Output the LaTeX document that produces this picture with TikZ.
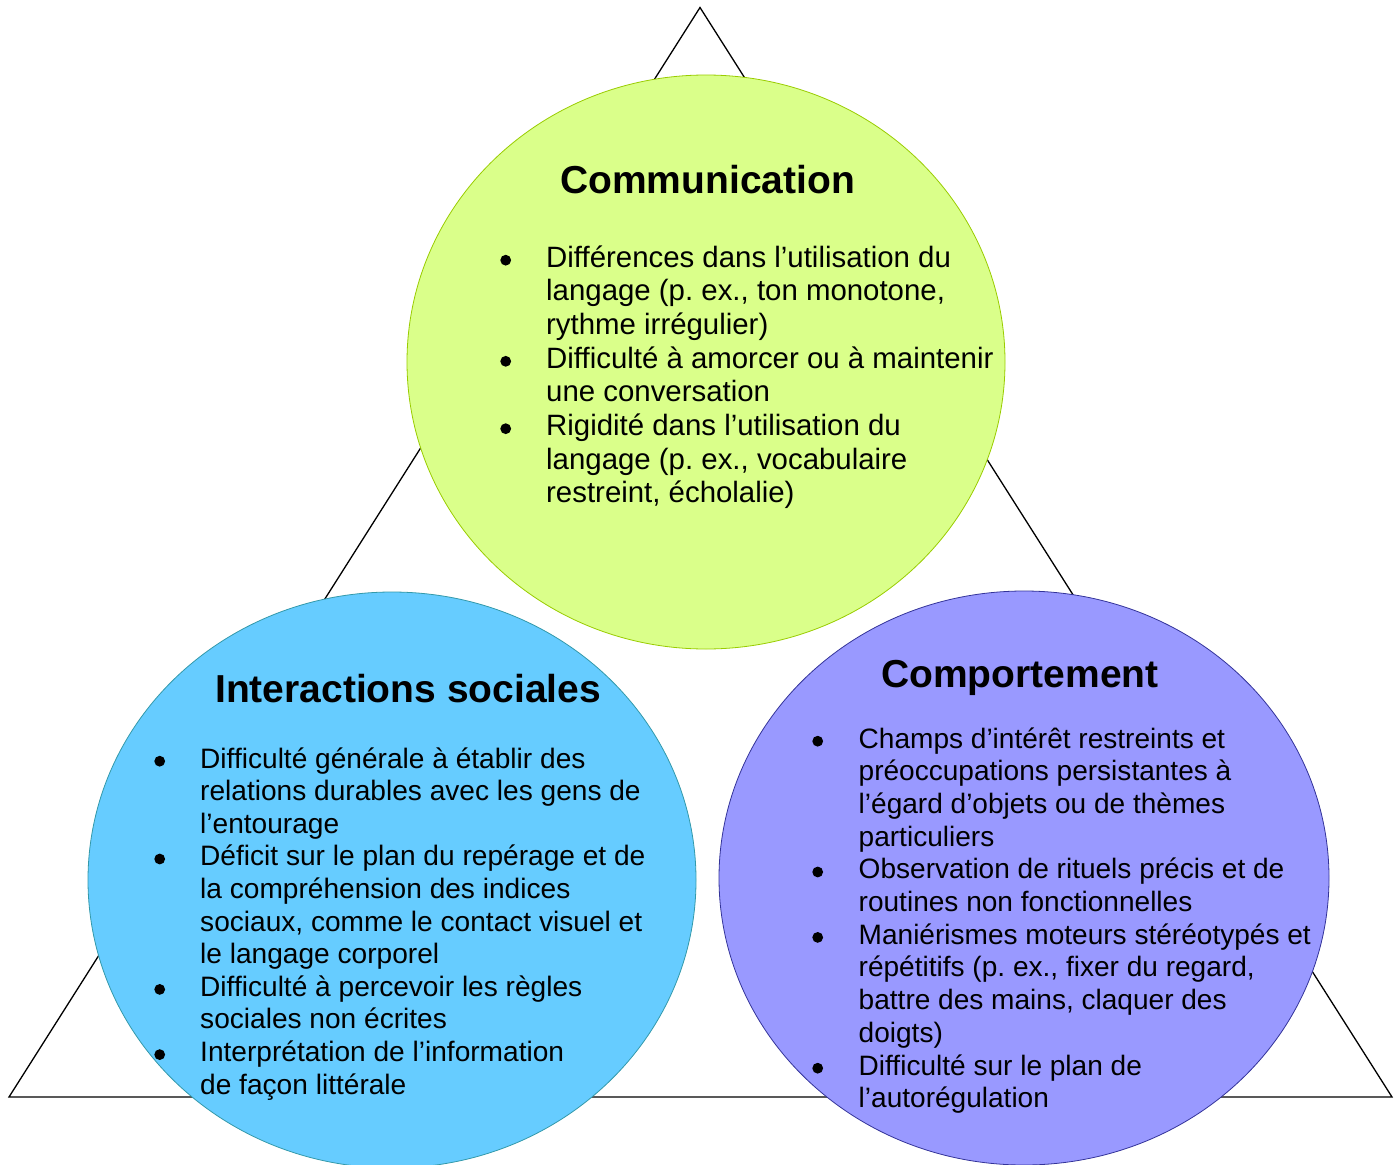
\documentclass[tikz,border=0pt]{standalone}
\usepackage{fontspec}
\setmainfont{Liberation Sans}
\usetikzlibrary{shapes.geometric}
\definecolor{comfill}{RGB}{218,255,138}
\definecolor{comline}{RGB}{153,204,0}
\definecolor{intfill}{RGB}{102,204,255}
\definecolor{intline}{RGB}{51,153,170}
\definecolor{cptfill}{RGB}{153,153,255}
\definecolor{cptline}{RGB}{51,51,153}
\newcommand\bl{\makebox[0pt]{\tikz[baseline=0pt]\fill[black] (0pt,6.8pt) circle (5.4pt);}}
\tikzset{
  blob/.style={ellipse, inner sep=0pt, outer sep=0pt, line width=0.8pt},
  ttl/.style={anchor=base west, inner sep=0pt, font=\fontsize{39}{44}\selectfont\bfseries},
  lst/.style={anchor=base west, inner sep=0pt, align=left}
}
\begin{document}
\frenchspacing
\begin{tikzpicture}[x=1pt,y=1pt]
\useasboundingbox (0,0) rectangle (1399,-1164);
% triangle
\coordinate (apex) at (700,-7.5);
\coordinate (bl) at (9,-1097);
\coordinate (br) at (1392,-1097);
\draw[line width=1.3pt, line join=miter] (apex) -- (bl) -- (br) -- cycle;
% circles
\node[blob, draw=comline, fill=comfill, minimum width=598, minimum height=574] (com) at (706,-362) {};
\node[blob, draw=intline, fill=intfill, minimum width=608, minimum height=576] (int) at (392,-880) {};
\node[blob, draw=cptline, fill=cptfill, minimum width=610, minimum height=574] (cpt) at (1024,-878) {};
% titles
\node[ttl] (comt) at (560,-193) {Communication};
\node[ttl] (intt) at (215,-702) {Interactions sociales};
\node[ttl] (cptt) at (881,-687) {Comportement};
% lists
\node[lst] (coml) at (505.5,-267) {\fontsize{29.4}{33.7}\selectfont\frenchspacing
\begin{tabular}[t]{@{}l@{\hspace{40.5pt}}l@{}}
\bl & Différences dans l’utilisation du\\
 & langage (p. ex., ton monotone,\\
 & rythme irrégulier)\\
\bl & Difficulté à amorcer ou à maintenir\\
 & une conversation\\
\bl & Rigidité dans l’utilisation du\\
 & langage (p. ex., vocabulaire\\
 & restreint, écholalie)
\end{tabular}};
\node[lst] (intl) at (159.5,-768) {\fontsize{28.1}{32.6}\selectfont\frenchspacing
\begin{tabular}[t]{@{}l@{\hspace{40.5pt}}l@{}}
\bl & Difficulté générale à établir des\\
 & relations durables avec les gens de\\
 & l’entourage\\
\bl & Déficit sur le plan du repérage et de\\
 & la compréhension des indices\\
 & sociaux, comme le contact visuel et\\
 & le langage corporel\\
\bl & Difficulté à percevoir les règles\\
 & sociales non écrites\\
\bl & Interprétation de l’information\\
 & de façon littérale
\end{tabular}};
\node[lst] (cptl) at (817.5,-748) {\fontsize{28.05}{32.7}\selectfont\frenchspacing
\begin{tabular}[t]{@{}l@{\hspace{41pt}}l@{}}
\bl & Champs d’intérêt restreints et\\
 & préoccupations persistantes à\\
 & l’égard d’objets ou de thèmes\\
 & particuliers\\
\bl & Observation de rituels précis et de\\
 & routines non fonctionnelles\\
\bl & Maniérismes moteurs stéréotypés et\\
 & répétitifs (p. ex., fixer du regard,\\
 & battre des mains, claquer des\\
 & doigts)\\
\bl & Difficulté sur le plan de\\
 & l’autorégulation
\end{tabular}};
\end{tikzpicture}
\end{document}
